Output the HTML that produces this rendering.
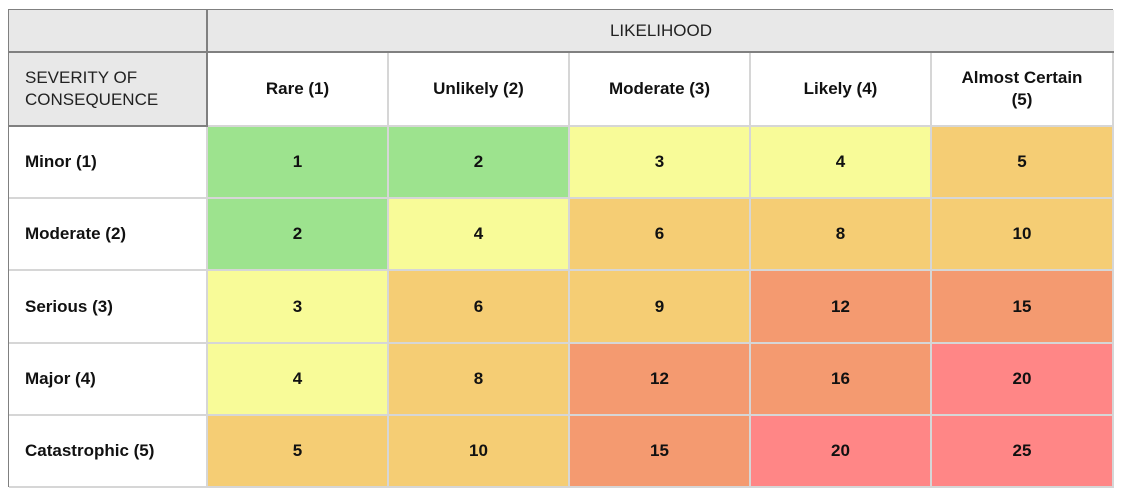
<!DOCTYPE html>
<html><head><meta charset="utf-8"><style>
body{margin:0;width:1121px;height:495px;background:#fff;font-family:"Liberation Sans",sans-serif;overflow:hidden}
#m{position:absolute;left:8px;top:9px;width:1105px;height:478px;border:1px solid #808080;box-sizing:border-box}
.c{position:absolute;box-sizing:border-box;border-right:2px solid #d6d6d6;border-bottom:2px solid #d6d6d6;display:flex;align-items:center;justify-content:center;text-align:center;font-size:17px;font-weight:bold;color:#111;line-height:22px}
.h{background:#e8e8e8;font-weight:normal;color:#222}
</style></head><body>
<div id="m"></div>
<script>
const likelihood=["Rare (1)","Unlikely (2)","Moderate (3)","Likely (4)","Almost Certain<br>(5)"];
const severity=["Minor (1)","Moderate (2)","Serious (3)","Major (4)","Catastrophic (5)"];
const sevVals=[1,2,3,4,5];
const likVals=[1,2,3,4,5];
const colX=[0,199,380,561,742,923,1105];
const rowY=[0,43,117,189,261,334,406,478];
const m=document.getElementById('m');
function cell(x,y,w,h,html,cls,bg,name){const d=document.createElement('div');d.className='c '+(cls||'');d.style.left=x+'px';d.style.top=y+'px';d.style.width=w+'px';d.style.height=h+'px';if(bg)d.style.background=bg;d.innerHTML=html;


m.appendChild(d);return d;}
function color(v){return v<=2?'#9de38e':v<=4?'#f8fb98':v<=10?'#f5cd74':v<=16?'#f49a70':'#ff8686';}
let a=cell(0,0,199,43,'','h',null,'corner-blank');a.style.borderRight='2px solid #808080';a.style.borderBottom='2px solid #808080';
let b=cell(199,0,906,43,'LIKELIHOOD','h',null,'likelihood-title');b.style.borderRight='none';b.style.borderBottom='2px solid #808080';
let s=cell(0,43,199,74,'SEVERITY OF<br>CONSEQUENCE','h',null,'severity-title');s.style.justifyContent='flex-start';s.style.textAlign='left';s.style.paddingLeft='16px';s.style.borderRight='2px solid #808080';s.style.borderBottom='2px solid #808080';
likelihood.forEach((t,i)=>{cell(colX[i+1],43,colX[i+2]-colX[i+1],74,t,'','#fff','likelihood-header');});
severity.forEach((t,r)=>{let y=rowY[r+2],h=rowY[r+3]-y;
let d=cell(0,y,199,h,t,'','#fff','severity-header');d.style.justifyContent='flex-start';d.style.paddingLeft='16px';
likVals.forEach((l,i)=>{const v=sevVals[r]*l;cell(colX[i+1],y,colX[i+2]-colX[i+1],h,String(v),'',color(v),'risk-cell');});});
</script>
</body></html>
